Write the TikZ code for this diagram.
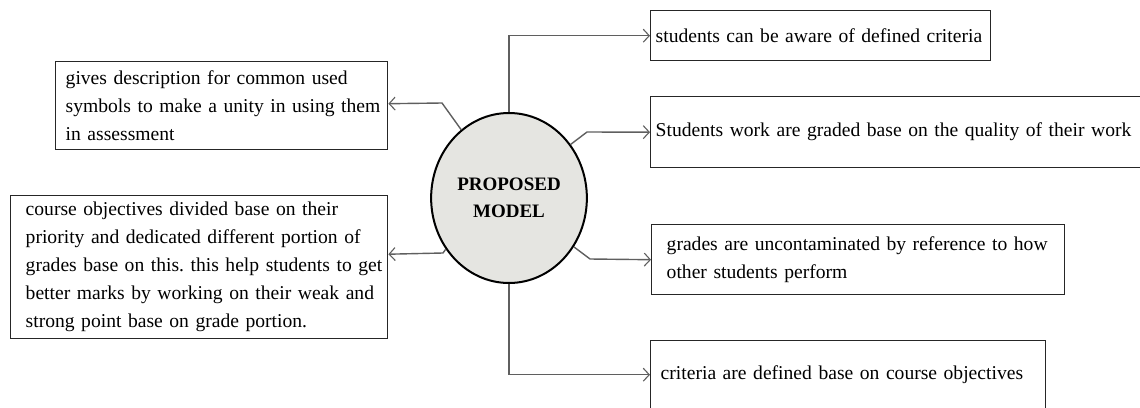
\documentclass[tikz,border=0pt]{standalone}
\usepackage{fontspec}
\setmainfont{Liberation Serif}
\usetikzlibrary{shapes.geometric,arrows.meta}
\definecolor{ellfill}{RGB}{229,229,225}
\definecolor{linegray}{RGB}{95,95,95}
\newcommand\myl[1]{\mbox{#1}}
\frenchspacing
\begin{document}
\begin{tikzpicture}[x=1pt,y=-1pt,
  box/.style={draw=black!85,line width=1.4pt,rectangle,anchor=north west,inner ysep=0pt,align=left,font=\fontsize{19.6}{28}\selectfont},
  conn/.style={draw=linegray,line width=1.4pt,-{Straight Barb[length=6pt,width=13pt,line width=1.1pt]}},
  model/.style={ellipse,draw=black,line width=2pt,fill=ellfill,minimum width=148pt,minimum height=170pt,align=center,font=\bfseries\fontsize{19}{27}\selectfont}
]
\useasboundingbox (0,0) rectangle (1140,407);
\clip (0,0) rectangle (1140,407);
\node[model] (m) at (509,198) {PROPOSED\\MODEL};
\node[box,minimum width=332pt,minimum height=88pt,inner xsep=10pt,text width=312pt] (b1) at (55,61)
  {\myl{gives description for common used}\\\myl{symbols to make a unity in using them}\\\myl{in assessment}};
\node[box,minimum width=377pt,minimum height=143pt,inner xsep=15pt,text width=347pt] (b2) at (10,195)
  {\myl{course objectives divided base on their}\\\myl{priority and dedicated different portion of}\\\myl{grades base on this. this help students to get}\\\myl{better marks by working on their weak and}\\\myl{strong point base on grade portion.}};
\node[box,minimum width=340pt,minimum height=50pt,inner xsep=5pt,text width=330pt] (b3) at (650,10)
  {\myl{students can be aware of defined criteria}};
\node[box,minimum width=500pt,minimum height=71pt,inner xsep=5pt,text width=490pt] (b4) at (650,96)
  {\myl{Students work are graded base on the quality of their work}};
\node[box,minimum width=413pt,minimum height=70pt,inner xsep=15pt,text width=383pt] (b5) at (651,224)
  {\myl{grades are uncontaminated by reference to how}\\\myl{other students perform}};
\node[box,minimum width=395pt,minimum height=68pt,inner xsep=10pt,text width=375pt] (b6) at (650,340)
  {\myl{criteria are defined base on course objectives}};
\coordinate (e1) at (442,103);
\coordinate (e2) at (443,253);
\coordinate (e4) at (587,132);
\coordinate (e5) at (590,259);
\draw[conn] (m.125) -- (e1) -- ([yshift=2pt]b1.east);
\draw[conn] (m.219) -- (e2) -- ([yshift=13pt]b2.east);
\draw[conn] (m.north) |- (b3.west);
\draw[conn] (m.41) -- (e4) -- (b4.west);
\draw[conn] (m.-37) -- (e5) -- (b5.west);
\draw[conn] (m.south) |- (b6.west);
\end{tikzpicture}
\end{document}
